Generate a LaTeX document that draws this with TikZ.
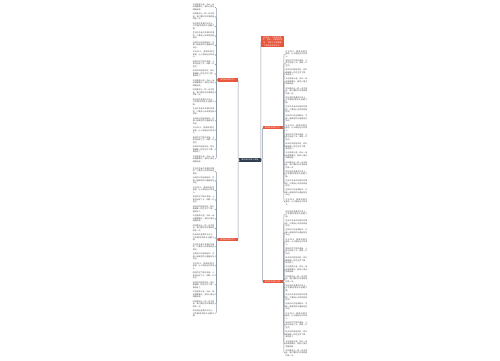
\documentclass[tikz,border=0pt]{standalone}
\usepackage{fontspec}
\newfontfamily\cjk{Noto Sans CJK SC}
\XeTeXlinebreaklocale "zh"
\XeTeXlinebreakskip=0pt plus 0.3pt
\definecolor{orn}{HTML}{E8553A}
\definecolor{navy}{HTML}{2E3B4E}
\definecolor{lnc}{HTML}{8C96A3}
\newcommand\leaftxt[1]{\ifcase#1 秋天的风轻轻吹过，树叶像蝴蝶一样在空中飞舞，美丽极了。\or 天空是那么蓝，白云一朵朵慢慢飘过，我的心情也明朗起来。\or 时间像流水一样一去不复返，我们要好好珍惜眼前的每一天。\or 阳光洒在金黄的大地上，万物都显得格外温暖宁静。\or 生活中总有许多美好的事物，只要用心去发现就能找到。\or 远处的山峦连绵起伏，仿佛一幅美丽的水墨画挂在天边。\or 月光如水，静静地照在窗前，让人想起远方的亲人。\or 雨后的空气格外清新，小草也抬起了头，田野一片生机。\fi}
\tikzset{
  leaf/.style={font=\cjk\fontsize{1.9}{2.5}\selectfont, text width=21.5pt, align=justify, inner sep=0pt, text=black!70},
  brnode/.style={fill=orn, text=white, font=\cjk\fontsize{1.9}{2.3}\selectfont, inner sep=0.4pt, minimum width=20pt, minimum height=3.6pt, align=center},
  ctrnode/.style={fill=navy, text=white, font=\cjk\fontsize{1.9}{2.3}\selectfont, inner sep=0.4pt, minimum width=22pt, minimum height=4.4pt},
  conn/.style={draw=lnc, line width=0.5pt, rounded corners=1.2pt}
}
\begin{document}
\begin{tikzpicture}[x=1pt,y=-1pt]
\useasboundingbox[fill=white] (0,0) rectangle (500,360);
\node[ctrnode] (C) at (250,160) {描写秋天的句子精选};
\node[brnode] (B1) at (228,80) {描写秋天的句子一};
\node[brnode] (B4) at (228,239.5) {描写秋天的句子二};
\node[brnode, text width=21.5pt, minimum width=23pt, font=\cjk\fontsize{1.9}{2.6}\selectfont] (B0) at (272.5,41.5) {秋天是一个收获的季节，也是一个美丽的季节，下面为大家整理了描写秋天的句子。};
\node[brnode] (B2) at (272.5,127.5) {描写秋天的句子三};
\node[brnode] (B3) at (272.5,281.5) {描写秋天的句子四};
\draw[conn] (C.west) -| (B1.east);
\draw[conn] (C.west) -| (B4.east);
\draw[conn] (C.east) -| (B0.west);
\draw[conn] (C.east) -| (B2.west);
\draw[conn] (C.east) -| (B3.west);
% left branch 1
\foreach \i in {1,...,17}{
  \pgfmathsetmacro\yy{7+9.5*(\i-1)}
  \pgfmathtruncatemacro\k{mod(\i,8)}
  \node[leaf, anchor=east] (La\i) at (214.5,\yy) {\leaftxt{\k}};
  \draw[conn] (B1.west) -- ++(-1.5,0) |- (La\i.east);
}
% left branch 2
\foreach \i in {1,...,16}{
  \pgfmathsetmacro\yy{171+9.5*(\i-1)}
  \pgfmathtruncatemacro\k{mod(\i+3,8)}
  \node[leaf, anchor=east] (Lb\i) at (214.5,\yy) {\leaftxt{\k}};
  \draw[conn] (B4.west) -- ++(-1.5,0) |- (Lb\i.east);
}
% right branch 2
\foreach \i in {1,...,17}{
  \pgfmathsetmacro\yy{54+9.25*(\i-1)}
  \pgfmathtruncatemacro\k{mod(\i+5,8)}
  \node[leaf, anchor=west] (Ra\i) at (285.5,\yy) {\leaftxt{\k}};
  \draw[conn] (B2.east) -- ++(1.2,0) |- (Ra\i.west);
}
% right branch 3
\foreach \i in {1,...,16}{
  \pgfmathsetmacro\yy{214+9.27*(\i-1)}
  \pgfmathtruncatemacro\k{mod(\i+2,8)}
  \node[leaf, anchor=west] (Rb\i) at (285.5,\yy) {\leaftxt{\k}};
  \draw[conn] (B3.east) -- ++(1.2,0) |- (Rb\i.west);
}
\end{tikzpicture}
\end{document}
